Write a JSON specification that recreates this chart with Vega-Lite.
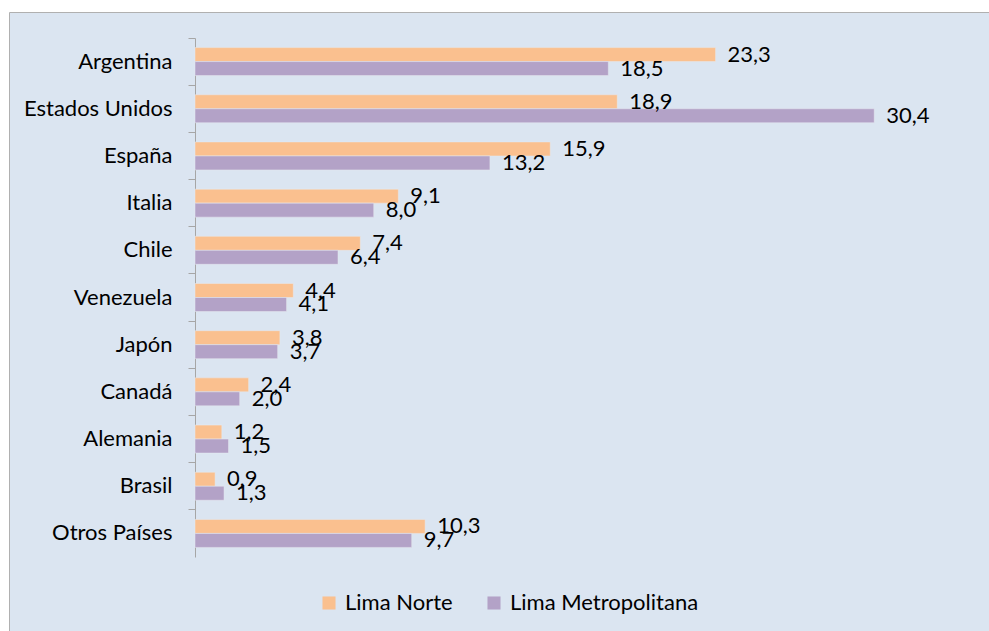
{
  "$schema": "https://vega.github.io/schema/vega-lite/v6.json",
  "autosize": {"type": "none"},
  "padding": {"left": 9, "top": 12, "right": 0, "bottom": 0},
  "width": 990,
  "height": 630,
  "background": "white",
  "config": {
    "view": {"fill": "#dbe5f1", "stroke": "#b0b0b0", "strokeWidth": 1},
    "font": "Lato",
    "locale": {"number": {"decimal": ",", "thousands": ".", "grouping": [3], "currency": ["", ""]}}
  },
  "data": {
    "values": [
      {"pais": "Argentina", "serie": "Lima Norte", "valor": 23.3},
      {"pais": "Argentina", "serie": "Lima Metropolitana", "valor": 18.5},
      {"pais": "Estados Unidos", "serie": "Lima Norte", "valor": 18.9},
      {"pais": "Estados Unidos", "serie": "Lima Metropolitana", "valor": 30.4},
      {"pais": "España", "serie": "Lima Norte", "valor": 15.9},
      {"pais": "España", "serie": "Lima Metropolitana", "valor": 13.2},
      {"pais": "Italia", "serie": "Lima Norte", "valor": 9.1},
      {"pais": "Italia", "serie": "Lima Metropolitana", "valor": 8.0},
      {"pais": "Chile", "serie": "Lima Norte", "valor": 7.4},
      {"pais": "Chile", "serie": "Lima Metropolitana", "valor": 6.4},
      {"pais": "Venezuela", "serie": "Lima Norte", "valor": 4.4},
      {"pais": "Venezuela", "serie": "Lima Metropolitana", "valor": 4.1},
      {"pais": "Japón", "serie": "Lima Norte", "valor": 3.8},
      {"pais": "Japón", "serie": "Lima Metropolitana", "valor": 3.7},
      {"pais": "Canadá", "serie": "Lima Norte", "valor": 2.4},
      {"pais": "Canadá", "serie": "Lima Metropolitana", "valor": 2.0},
      {"pais": "Alemania", "serie": "Lima Norte", "valor": 1.2},
      {"pais": "Alemania", "serie": "Lima Metropolitana", "valor": 1.5},
      {"pais": "Brasil", "serie": "Lima Norte", "valor": 0.9},
      {"pais": "Brasil", "serie": "Lima Metropolitana", "valor": 1.3},
      {"pais": "Otros Países", "serie": "Lima Norte", "valor": 10.3},
      {"pais": "Otros Países", "serie": "Lima Metropolitana", "valor": 9.7}
    ]
  },
  "encoding": {
    "y": {
      "field": "pais",
      "type": "nominal",
      "sort": null,
      "scale": {"range": [26, 545], "paddingInner": 0, "paddingOuter": 0},
      "axis": {
        "title": null,
        "offset": -186,
        "bandPosition": 0,
        "grid": false,
        "domainColor": "#a6a6a6",
        "tickColor": "#a6a6a6",
        "tickSize": 7,
        "labelPadding": 16,
        "labelFontSize": 22,
        "labelColor": "#000000",
        "labelFont": "Lato"
      }
    },
    "yOffset": {
      "field": "serie",
      "type": "nominal",
      "sort": ["Lima Norte", "Lima Metropolitana"],
      "scale": {"paddingInner": 0, "paddingOuter": 0.686}
    },
    "x": {
      "field": "valor",
      "type": "quantitative",
      "scale": {"domain": [0, 35], "range": [186, 968], "nice": false},
      "axis": null
    }
  },
  "layer": [
    {
      "mark": {"type": "bar", "stroke": "#e6eaf0", "strokeWidth": 0.5},
      "encoding": {
        "color": {
          "field": "serie",
          "type": "nominal",
          "sort": ["Lima Norte", "Lima Metropolitana"],
          "scale": {"domain": ["Lima Norte", "Lima Metropolitana"], "range": ["#fac08f", "#b3a2c7"]},
          "legend": {
            "title": null,
            "orient": "none",
            "direction": "horizontal",
            "legendX": 309,
            "legendY": 580,
            "symbolType": "square",
            "symbolSize": 170,
            "symbolStrokeWidth": 0,
            "labelFontSize": 22,
            "labelFont": "Lato",
            "labelColor": "#000000",
            "labelOffset": 5,
            "labelLimit": 400,
            "columnPadding": 30
          }
        }
      }
    },
    {
      "mark": {"type": "text", "align": "left", "baseline": "middle", "dx": 12, "fontSize": 22, "font": "Lato", "color": "#000000"},
      "encoding": {
        "text": {"field": "valor", "type": "quantitative", "format": ".1f"}
      }
    }
  ]
}
